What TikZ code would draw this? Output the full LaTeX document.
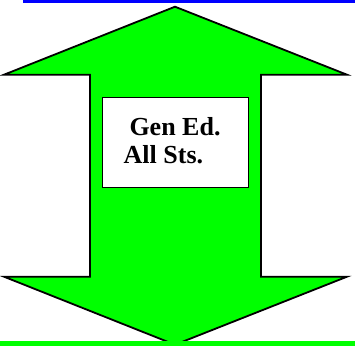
\documentclass[tikz,border=0pt]{standalone}
\usepackage{fontspec}
\setmainfont{Liberation Serif}
\definecolor{arrowgreen}{RGB}{0,255,0}
\definecolor{topblue}{RGB}{0,0,255}
\begin{document}
\begin{tikzpicture}[x=1pt,y=-1pt,
  outline/.style={draw=black,line width=1.8pt,line join=miter},
  label/.style={anchor=base west,inner sep=0pt,font=\fontsize{26}{30}\selectfont\bfseries}]
\useasboundingbox (0,0) rectangle (355,346);
% double arrow
\filldraw[outline,fill=arrowgreen]
  (175,6.7) -- (347,74.7) -- (261,74.7) -- (261,276.7) -- (347,276.7)
  -- (175,344.7) -- (4,276.7) -- (90,276.7) -- (90,74.7) -- (4,74.7) -- cycle;
% lines
\fill[topblue] (22.5,0) rectangle (355,3);
\fill[arrowgreen] (0,340.8) rectangle (355,346);
% box
\node[draw=black,line width=1.4pt,fill=white,minimum width=146pt,minimum height=90pt,inner sep=0pt,anchor=north west] (box) at (101.5,97) {};
\node[label] (gen) at (129.3,135) {Gen Ed.};
\node[label] (all) at (123.5,163.5) {All Sts.};
\end{tikzpicture}
\end{document}
